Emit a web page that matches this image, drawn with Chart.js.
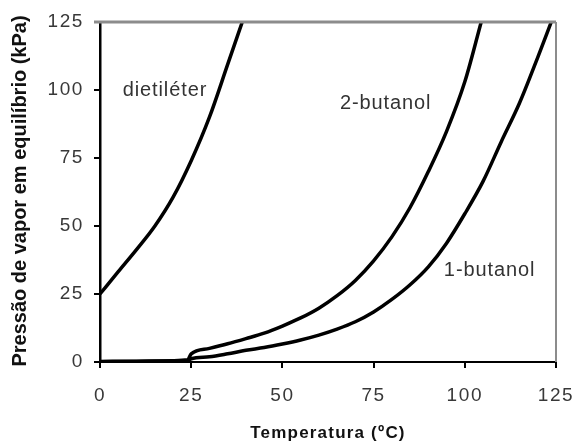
<!DOCTYPE html>
<html>
<head>
<meta charset="utf-8">
<script src="https://cdn.jsdelivr.net/npm/chart.js@4"></script>
<style>
  html, body { margin: 0; padding: 0; background: #fff; }
  #wrap { width: 578px; height: 443px; }
</style>
</head>
<body>
<div id="wrap"><canvas id="vaporChart" width="578" height="443"></canvas></div>
<script>
// temperature (ºC) and vapour pressure (kPa)
const eterT = [0, 5, 10, 15, 20, 25, 30, 35, 39];
const eterP = [25, 33.2, 41.3, 49.9, 60.5, 74, 90, 109.4, 125];

const but2T = [0, 10, 20, 24, 25, 30, 35, 40, 45, 50, 55, 60, 65, 70, 75, 80, 85, 90, 95, 100, 104.5];
const but2P = [0.2, 0.3, 0.5, 0.8, 3, 5, 6.7, 8.6, 10.6, 13.2, 16.2, 19.8, 24.4, 30, 37.2, 46, 56.8, 70, 84.8, 103, 125];

const but1T = [0, 10, 20, 24, 25, 30, 35, 40, 45, 50, 55, 60, 65, 70, 75, 80, 85, 90, 95, 100, 105, 110, 115, 120, 123.7];
const but1P = [0.1, 0.2, 0.3, 0.4, 1.2, 1.9, 3, 4.3, 5.3, 6.6, 8.1, 9.9, 12.1, 14.8, 18.4, 23, 28.4, 35, 43.7, 54.5, 66.4, 81, 95.2, 112, 125];

const xTicks = [0, 25, 50, 75, 100, 125];
const yTicks = [0, 25, 50, 75, 100, 125];

const curveNames = ['dietiléter', '2-butanol', '1-butanol'];
const labelAt = [[17.8, 100], [78.3, 95.2], [106.8, 33.8]];

function toPoints(xs, ys) {
    return xs.map((x, i) => ({ x: x, y: ys[i] }));
}

const FONT = "'Liberation Sans', Arial, sans-serif";

const textPlugin = {
    id: 'textPlugin',
    beforeDraw(chart) {
        chart.ctx.letterSpacing = '1.6px';
    },
    afterDraw(chart) {
        const ctx = chart.ctx;
        const a = chart.chartArea;
        const xs = chart.scales.x, ys = chart.scales.y;
        ctx.save();
        // grey frame on top and right
        ctx.strokeStyle = '#8c8c8c';
        ctx.lineWidth = 3;
        ctx.beginPath();
        ctx.moveTo(a.left - 6, a.top);
        ctx.lineTo(a.right, a.top);
        ctx.stroke();
        ctx.lineWidth = 2;
        ctx.beginPath();
        ctx.moveTo(a.right, a.top);
        ctx.lineTo(a.right, a.bottom);
        ctx.stroke();

        // curve labels
        ctx.fillStyle = '#333';
        ctx.font = '20px ' + FONT;
        ctx.letterSpacing = '0.9px';
        ctx.textAlign = 'center';
        ctx.textBaseline = 'middle';
        curveNames.forEach((name, i) => {
            ctx.fillText(name, xs.getPixelForValue(labelAt[i][0]), ys.getPixelForValue(labelAt[i][1]));
        });

        // axis titles
        ctx.fillStyle = '#111';
        ctx.font = 'bold 17px ' + FONT;
        ctx.letterSpacing = '1.2px';
        ctx.fillText('Temperatura (ºC)', (a.left + a.right) / 2, 433);

        ctx.letterSpacing = '0px';
        ctx.font = 'bold 20px ' + FONT;
        ctx.translate(20, 191);
        ctx.rotate(-Math.PI / 2);
        ctx.fillText('Pressão de vapor em equilíbrio (kPa)', 0, 0);
        ctx.restore();
    }
};

const line = (data) => ({
    data: data,
    showLine: true,
    borderColor: '#000',
    borderWidth: 3.5,
    pointRadius: 0,
    cubicInterpolationMode: 'monotone',
    fill: false
});

new Chart(document.getElementById('vaporChart').getContext('2d'), {
    type: 'scatter',
    data: {
        datasets: [
            line(toPoints(eterT, eterP)),
            line(toPoints(but2T, but2P)),
            line(toPoints(but1T, but1P))
        ]
    },
    options: {
        responsive: false,
        animation: false,
        layout: { padding: { top: 22, right: 22, left: 0, bottom: 0 } },
        plugins: { legend: { display: false }, tooltip: { enabled: false } },
        scales: {
            x: {
                type: 'linear',
                min: 0,
                max: 125,
                afterBuildTicks: (s) => { s.ticks = xTicks.map(v => ({ value: v })); },
                afterFit: (s) => { s.height = 81; s.paddingLeft = 0; s.paddingRight = 0; },
                grid: { drawOnChartArea: false, tickLength: 6, color: '#000', lineWidth: 2 },
                border: { color: '#000', width: 2 },
                ticks: { color: '#383838', font: { family: FONT, size: 19 }, padding: 16 }
            },
            y: {
                type: 'linear',
                min: 0,
                max: 125,
                afterBuildTicks: (s) => { s.ticks = yTicks.map(v => ({ value: v })); },
                afterFit: (s) => { s.width = 100; s.paddingTop = 0; s.paddingBottom = 0; },
                grid: { drawOnChartArea: false, tickLength: 6, color: '#000', lineWidth: 2 },
                border: { color: '#000', width: 2.5 },
                ticks: { color: '#383838', font: { family: FONT, size: 19 }, padding: 10 }
            }
        }
    },
    plugins: [textPlugin]
});
</script>
</body>
</html>
